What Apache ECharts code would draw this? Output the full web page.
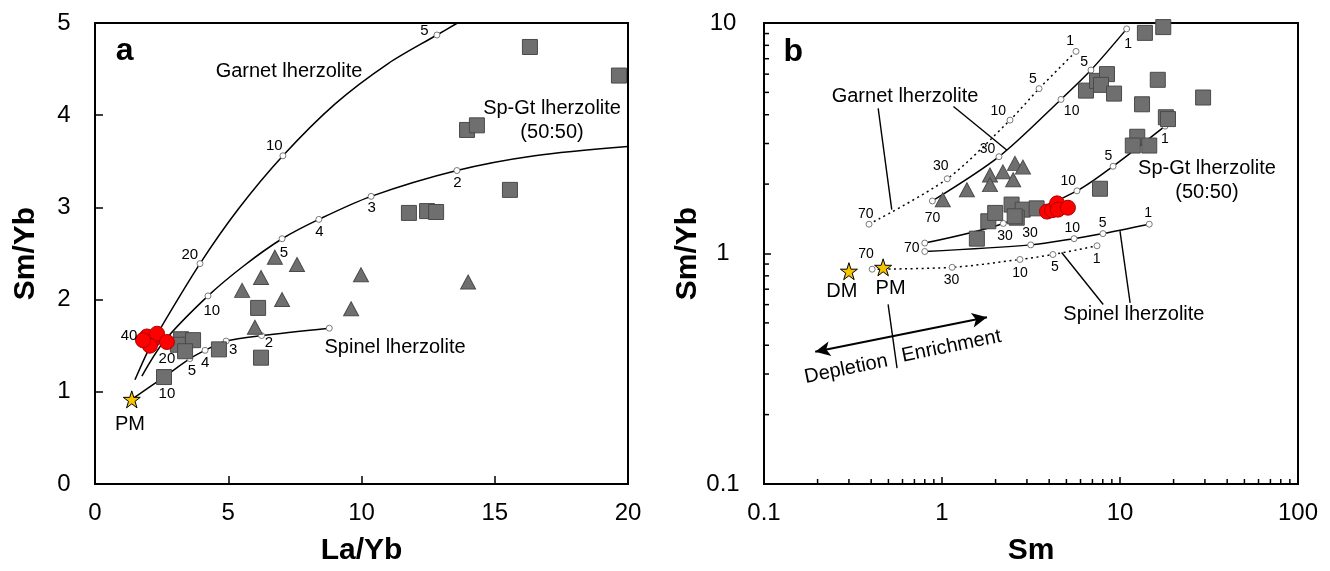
<!DOCTYPE html>
<html>
<head>
<meta charset="utf-8">
<script src="https://cdn.jsdelivr.net/npm/echarts/dist/echarts.min.js"></script>
<style>html,body{margin:0;padding:0;background:#fff}#c{width:1330px;height:571px}</style>
</head>
<body>
<div id="c"></div>
<script>
// ---------- Panel a data (La/Yb vs Sm/Yb) ----------
const xTicksA = [0, 5, 10, 15, 20];
const yTicksA = [0, 1, 2, 3, 4, 5];
const gtCurveA = [[1.5,1.13],[1.95,1.42],[2.44,1.68],[3.94,2.39],[5.4,2.99],[7.05,3.56],[9.0,4.12],[11.0,4.56],[12.83,4.87],[13.6,5.0]];
const spGtCurveA = [[1.76,1.17],[2.6,1.55],[4.24,2.04],[5.6,2.37],[7.02,2.66],[8.4,2.87],[10.36,3.12],[13.58,3.40],[16.5,3.56],[20,3.66]];
const spCurveA = [[1.38,0.918],[2.59,1.16],[3.56,1.36],[4.13,1.45],[4.92,1.55],[6.25,1.61],[8.79,1.69]];
const curveMarksA = [[3.94,2.39],[7.05,3.56],[12.83,4.87],[4.24,2.04],[7.02,2.66],[8.4,2.87],[10.36,3.12],[13.58,3.40],[3.56,1.36],[4.13,1.45],[4.92,1.55],[6.25,1.61],[8.79,1.69]];
const squaresA = [[16.32,4.74],[19.66,4.43],[13.96,3.84],[14.33,3.89],[15.57,3.19],[11.78,2.94],[12.46,2.96],[12.80,2.95],[6.12,1.91],[6.23,1.37],[4.65,1.46],[2.59,1.16],[3.23,1.57],[3.68,1.56],[3.11,1.51],[3.38,1.44]];
const trianglesA = [[6.75,2.46],[7.58,2.38],[6.23,2.24],[5.52,2.10],[7.02,2.00],[6.0,1.70],[9.98,2.27],[9.61,1.90],[14.0,2.19]];
const circlesA = [[1.95,1.60],[2.14,1.55],[2.33,1.63],[2.06,1.50],[2.70,1.54],[1.80,1.56]];
const starsA = [[1.38,0.918]];
const numLabelsA = [[12.36,4.91,'5'],[6.73,3.67,'10'],[3.56,2.49,'20'],[1.28,1.61,'40'],[2.70,1.36,'20'],[4.38,1.88,'10'],[7.09,2.51,'5'],[8.42,2.74,'4'],[10.38,2.99,'3'],[13.6,3.27,'2'],[2.70,0.98,'10'],[3.64,1.23,'5'],[4.13,1.31,'4'],[5.18,1.45,'3'],[6.53,1.53,'2']];
const nameLabelsA = [[7.28,4.47,'Garnet lherzolite'],[17.15,3.94,'Sp-Gt lherzolite\n(50:50)'],[11.26,1.48,'Spinel lherzolite'],[1.31,0.65,'PM']];
const panelLabelA = [[1.11,4.69,'a']];

// ---------- Panel b data (Sm vs Sm/Yb, log-log) ----------
const xTicksB = [0.1, 1, 10, 100];
const yTicksB = [0.1, 1, 10];
const minorTicksXB = [0.2,0.3,0.4,0.5,0.6,0.7,0.8,0.9,2,3,4,5,6,7,8,9,20,30,40,50,60,70,80,90];
const minorTicksYB = [0.2,0.3,0.4,0.5,0.6,0.7,0.8,0.9,2,3,4,5,6,7,8,9];
const gtCurveB = [[0.883,1.69],[2.09,2.63],[4.66,4.66],[6.87,6.25],[10.9,9.43]];
const gtDotCurveB = [[0.389,1.34],[1.07,2.11],[2.41,3.79],[3.51,5.19],[5.66,7.53]];
const spGtCurveB = [[0.80,1.11],[2.21,1.35],[5.73,1.87],[9.14,2.39],[17.9,3.57]];
const spCurveB = [[0.80,1.02],[3.15,1.09],[5.52,1.16],[8.02,1.22],[14.6,1.34]];
const spDotCurveB = [[0.405,0.855],[1.14,0.871],[2.74,0.942],[4.20,0.99],[7.43,1.08]];
const squaresB = [[13.8,9.06],[17.5,9.6],[6.44,5.09],[7.43,5.61],[8.45,6.0],[7.82,5.39],[9.26,4.94],[16.3,5.67],[13.3,4.44],[29.3,4.75],[18.1,3.90],[18.6,3.83],[12.5,3.21],[11.8,2.94],[14.6,2.94],[7.72,1.91],[1.57,1.16],[1.82,1.38],[1.99,1.50],[2.46,1.63],[2.84,1.55],[2.63,1.43],[3.40,1.57],[2.56,1.45]];
const trianglesB = [[1.01,1.71],[1.38,1.89],[1.86,2.19],[1.86,1.99],[2.20,2.26],[2.57,2.46],[2.51,2.09],[2.85,2.37]];
const circlesB = [[3.89,1.52],[4.15,1.54],[4.43,1.65],[4.48,1.55],[5.10,1.58]];
const starsB = [[0.30,0.838],[0.467,0.871]];
const numLabelsB = [
  [0.373,1.48,'70'],[0.984,2.39,'30'],[2.07,4.15,'10'],[3.24,5.68,'5'],[5.24,8.33,'1'],
  [0.885,1.43,'70'],[1.80,2.83,'30'],[5.35,4.13,'10'],[6.28,6.78,'5'],[11.1,8.06,'1'],
  [0.676,1.06,'70'],[2.26,1.19,'30'],[5.12,2.06,'10'],[8.60,2.64,'5'],[17.9,3.12,'1'],
  [3.12,1.22,'30'],[5.40,1.29,'10'],[8.0,1.35,'5'],[14.4,1.50,'1'],
  [0.374,0.997,'70'],[1.13,0.767,'30'],[2.74,0.825,'10'],[4.31,0.875,'5'],[7.40,0.949,'1']
];
const nameLabelsB = [[0.62,4.78,'Garnet lherzolite'],[30.8,2.07,'Sp-Gt lherzolite\n(50:50)'],[11.97,0.545,'Spinel lherzolite'],[0.274,0.681,'DM'],[0.514,0.703,'PM']];
const panelLabelB = [[0.146,7.49,'b']];
const leadersB = [
  [[0.438,4.26],[0.522,1.55]],
  [[1.16,4.34],[2.31,2.81]],
  [[4.70,1.01],[8.05,0.601]],
  [[10.0,1.25],[11.4,0.611]]
];
const dividerB = [[0.498,0.601],[0.559,0.318]];
const arrowB = [[0.194,0.375],[1.79,0.529]];
const arrowTextB = [[0.289,0.315,'Depletion'],[1.13,0.396,'Enrichment']];

// ---------- styles ----------
const FONT = '"Liberation Sans", Arial, Helvetica, sans-serif';
const STAR = 'path://M50,0 L61.2,34.5 L97.6,34.5 L68.2,55.9 L79.4,90.5 L50,69.1 L20.6,90.5 L31.8,55.9 L2.4,34.5 L38.8,34.5 Z';

function curve(xi, data, dotted) {
  return {type:'line', xAxisIndex:xi, yAxisIndex:xi, data:data, smooth:0.3, showSymbol:false, silent:true, z:2,
    lineStyle:{color:'#000', width:1.5, type: dotted ? [2,3.5] : 'solid'}};
}
function straight(xi, data) {
  return {type:'line', xAxisIndex:xi, yAxisIndex:xi, data:data, showSymbol:false, silent:true, z:2,
    lineStyle:{color:'#000', width:1.4}};
}
function marks(xi, data) {
  return {type:'scatter', xAxisIndex:xi, yAxisIndex:xi, data:data, symbol:'circle', symbolSize:6, silent:true, z:3,
    itemStyle:{color:'#fff', borderColor:'#7a7a7a', borderWidth:1, opacity:1}};
}
function pts(xi, data, symbol, size, color, border) {
  return {type:'scatter', xAxisIndex:xi, yAxisIndex:xi, data:data, symbol:symbol, symbolSize:size, silent:true, z:4,
    itemStyle:{color:color, borderColor:border, borderWidth:1, opacity:1}};
}
function texts(xi, data, size, extra) {
  return {type:'scatter', xAxisIndex:xi, yAxisIndex:xi, data:data, symbolSize:1, silent:true, z:6,
    itemStyle:{color:'rgba(0,0,0,0)', opacity:1},
    label:Object.assign({show:true, position:'inside', formatter:function(p){return p.data[2];},
      fontSize:size, color:'#000', opacity:1, textBorderWidth:0, fontFamily:FONT, align:'center', verticalAlign:'middle', lineHeight:Math.round(size*1.2)}, extra||{})};
}
function tickSeries(vals, axis, len) {
  return {type:'custom', xAxisIndex:1, yAxisIndex:1, silent:true, z:5, clip:false,
    data: vals.map(function(v){ return axis==='x' ? [v, 0.1] : [0.1, v]; }),
    renderItem:function(params, api){
      var p = api.coord([api.value(0), api.value(1)]);
      var shape = axis==='x' ? {x1:p[0], y1:p[1], x2:p[0], y2:p[1]-len} : {x1:p[0], y1:p[1], x2:p[0]+len, y2:p[1]};
      return {type:'line', shape:shape, style:{stroke:'#000', lineWidth:1.5}};
    }};
}
function axisBase() {
  return {
    axisLine:{show:true, onZero:false, lineStyle:{color:'#000', width:2}},
    axisTick:{show:true, inside:true, length:8, lineStyle:{color:'#000', width:1.5}},
    splitLine:{show:false},
    axisLabel:{color:'#000', fontSize:24, fontFamily:FONT, showMinLabel:true, showMaxLabel:true},
    nameLocation:'middle',
    nameTextStyle:{color:'#000', fontSize:30, fontWeight:'bold', fontFamily:FONT}
  };
}
function fmtLog(v){ return v < 1 ? (Math.round(v*10)/10).toString() : Math.round(v).toString(); }

const xA = Object.assign(axisBase(), {type:'value', gridIndex:0, min:xTicksA[0], max:xTicksA[xTicksA.length-1], interval:5, name:'La/Yb', nameGap:52});
xA.axisLabel = Object.assign({}, xA.axisLabel, {margin:17});
const yA = Object.assign(axisBase(), {type:'value', gridIndex:0, min:yTicksA[0], max:yTicksA[yTicksA.length-1], interval:1, name:'Sm/Yb', nameGap:54});
yA.axisLabel = Object.assign({}, yA.axisLabel, {margin:31, align:'center'});
const xB = Object.assign(axisBase(), {type:'log', logBase:10, gridIndex:1, min:xTicksB[0], max:xTicksB[xTicksB.length-1], name:'Sm', nameGap:52});
xB.axisLabel = Object.assign({}, xB.axisLabel, {margin:17, formatter:fmtLog});
xB.axisTick = Object.assign({}, xB.axisTick, {length:7});
const yB = Object.assign(axisBase(), {type:'log', logBase:10, gridIndex:1, min:yTicksB[0], max:yTicksB[yTicksB.length-1], name:'Sm/Yb', nameGap:52});
yB.axisLabel = Object.assign({}, yB.axisLabel, {margin:41, align:'center', formatter:fmtLog});
yB.axisTick = Object.assign({}, yB.axisTick, {length:7});

const series = [
  // panel a
  curve(0, gtCurveA), curve(0, spGtCurveA), curve(0, spCurveA),
  marks(0, curveMarksA),
  pts(0, squaresA, 'rect', 15, '#6f6f6f', '#4a4a4a'),
  pts(0, trianglesA, 'triangle', [15,14], '#6f6f6f', '#4a4a4a'),
  pts(0, circlesA, 'circle', 15, '#ff0000', '#b00000'),
  pts(0, starsA, STAR, 17, '#f7c400', '#000'),
  texts(0, numLabelsA, 15),
  texts(0, nameLabelsA, 20),
  texts(0, panelLabelA, 32, {fontWeight:'bold'}),
  // panel b
  curve(1, gtCurveB), curve(1, gtDotCurveB, true), curve(1, spGtCurveB), curve(1, spCurveB), curve(1, spDotCurveB, true),
  marks(1, [].concat(gtCurveB, gtDotCurveB, spGtCurveB, spCurveB, spDotCurveB)),
  pts(1, squaresB, 'rect', 15, '#6f6f6f', '#4a4a4a'),
  pts(1, trianglesB, 'triangle', [15,14], '#6f6f6f', '#4a4a4a'),
  pts(1, circlesB, 'circle', 15, '#ff0000', '#b00000'),
  pts(1, starsB, STAR, 17, '#f7c400', '#000'),
  texts(1, numLabelsB, 14),
  texts(1, nameLabelsB, 20),
  texts(1, panelLabelB, 32, {fontWeight:'bold'}),
  texts(1, arrowTextB, 20, {rotate:11.5}),
  tickSeries(minorTicksXB, 'x', 5),
  tickSeries(minorTicksYB, 'y', 5)
];
leadersB.forEach(function(l){ series.push(straight(1, l)); });
const divider = straight(1, dividerB);
divider.markLine = {silent:true, symbol:['arrow','arrow'], symbolSize:[11,15], animation:false,
  label:{show:false}, lineStyle:{color:'#000', width:2, type:'solid'},
  data:[[{coord:arrowB[0]},{coord:arrowB[1]}]]};
series.push(divider);

const chart = echarts.init(document.getElementById('c'), null, {renderer:'canvas'});
chart.setOption({
  animation:false,
  backgroundColor:'#fff',
  grid:[
    {left:95, top:23, width:533, height:470, show:true, borderColor:'#000', borderWidth:2, backgroundColor:'rgba(0,0,0,0)'},
    {left:764, top:23, width:534, height:470, show:true, borderColor:'#000', borderWidth:2, backgroundColor:'rgba(0,0,0,0)'}
  ],
  xAxis:[xA, xB],
  yAxis:[yA, yB],
  series:series
});
</script>
</body>
</html>
